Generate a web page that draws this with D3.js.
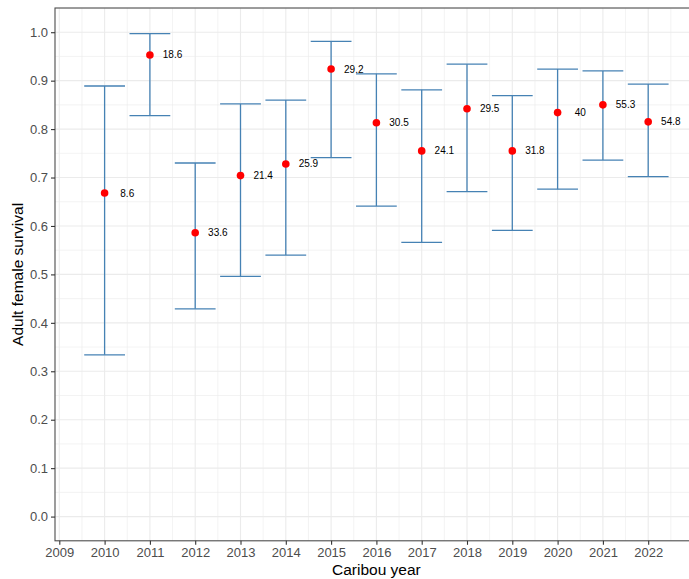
<!DOCTYPE html>
<html>
<head>
<meta charset="utf-8">
<script src="https://cdn.jsdelivr.net/npm/d3@7"></script>
<style>
  html, body { margin: 0; padding: 0; background: #fff; }
  svg { display: block; font-family: "Liberation Sans", Arial, sans-serif; }
</style>
</head>
<body>
<svg id="chart" width="689" height="579"></svg>
<script>
// Caribou adult female survival estimates with confidence intervals
const years    = [2010, 2011, 2012, 2013, 2014, 2015, 2016, 2017, 2018, 2019, 2020, 2021, 2022];
const survival = [0.668, 0.953, 0.586, 0.704, 0.728, 0.924, 0.813, 0.755, 0.842, 0.755, 0.834, 0.850, 0.815];
const lower    = [0.334, 0.828, 0.429, 0.496, 0.540, 0.741, 0.641, 0.566, 0.671, 0.591, 0.676, 0.736, 0.702];
const upper    = [0.889, 0.997, 0.730, 0.852, 0.860, 0.981, 0.914, 0.881, 0.934, 0.869, 0.924, 0.920, 0.893];
const sampleLabels = ["8.6", "18.6", "33.6", "21.4", "25.9", "29.2", "30.5", "24.1", "29.5", "31.8", "40", "55.3", "54.8"];
const xTicks = [2009, 2010, 2011, 2012, 2013, 2014, 2015, 2016, 2017, 2018, 2019, 2020, 2021, 2022];
const yTicks = [0.0, 0.1, 0.2, 0.3, 0.4, 0.5, 0.6, 0.7, 0.8, 0.9, 1.0];

const rows = years.map((y, i) => ({
  year: y, est: survival[i], lo: lower[i], hi: upper[i], label: sampleLabels[i]
}));

const svg = d3.select("#chart");
const panel = { left: 55, top: 8, right: 697.8, bottom: 540.8 };

const capHalf = 0.45;
const xMin = d3.min(years) - capHalf, xMax = d3.max(years) + capHalf;
const xPad = (xMax - xMin) * 0.05;
const x = d3.scaleLinear().domain([xMin - xPad, xMax + xPad]).range([panel.left, panel.right]);
const y = d3.scaleLinear().domain([-0.05, 1.05]).range([panel.bottom, panel.top]);

svg.append("defs").append("clipPath").attr("id", "panel-clip")
  .append("rect")
  .attr("x", panel.left).attr("y", panel.top)
  .attr("width", panel.right - panel.left).attr("height", panel.bottom - panel.top);

const g = svg.append("g").attr("clip-path", "url(#panel-clip)");

// minor grid
const xMinor = d3.range(2009.5, 2023, 1);
const yMinor = d3.range(-0.05, 1.06, 0.1).map(v => +v.toFixed(2));
g.selectAll("line.xminor").data(xMinor).join("line")
  .attr("x1", d => x(d)).attr("x2", d => x(d))
  .attr("y1", panel.top).attr("y2", panel.bottom)
  .attr("stroke", "#ebebeb").attr("stroke-width", 0.6);
g.selectAll("line.yminor").data(yMinor).join("line")
  .attr("x1", panel.left).attr("x2", panel.right)
  .attr("y1", d => y(d)).attr("y2", d => y(d))
  .attr("stroke", "#ebebeb").attr("stroke-width", 0.6);

// major grid
g.selectAll("line.xmajor").data(xTicks).join("line")
  .attr("x1", d => x(d)).attr("x2", d => x(d))
  .attr("y1", panel.top).attr("y2", panel.bottom)
  .attr("stroke", "#ebebeb").attr("stroke-width", 1.1);
g.selectAll("line.ymajor").data(yTicks).join("line")
  .attr("x1", panel.left).attr("x2", panel.right)
  .attr("y1", d => y(d)).attr("y2", d => y(d))
  .attr("stroke", "#ebebeb").attr("stroke-width", 1.1);

// error bars
const bars = g.selectAll("g.bar").data(rows).join("g").attr("class", "bar")
  .attr("stroke", "#4682B4").attr("stroke-width", 1.3).attr("fill", "none");
bars.append("line")
  .attr("x1", d => x(d.year)).attr("x2", d => x(d.year))
  .attr("y1", d => y(d.lo)).attr("y2", d => y(d.hi));
bars.append("line")
  .attr("x1", d => x(d.year - capHalf)).attr("x2", d => x(d.year + capHalf))
  .attr("y1", d => y(d.hi)).attr("y2", d => y(d.hi));
bars.append("line")
  .attr("x1", d => x(d.year - capHalf)).attr("x2", d => x(d.year + capHalf))
  .attr("y1", d => y(d.lo)).attr("y2", d => y(d.lo));

// point estimates
g.selectAll("circle.pt").data(rows).join("circle")
  .attr("cx", d => x(d.year)).attr("cy", d => y(d.est))
  .attr("r", 3.8).attr("fill", "#ff0000");

// value labels
g.selectAll("text.lbl").data(rows).join("text")
  .attr("x", d => x(d.year + 0.5)).attr("y", d => y(d.est))
  .attr("dy", "0.35em").attr("text-anchor", "middle")
  .attr("font-size", 10).attr("fill", "#000")
  .text(d => d.label);

// panel border
svg.append("rect")
  .attr("x", panel.left).attr("y", panel.top)
  .attr("width", panel.right - panel.left).attr("height", panel.bottom - panel.top)
  .attr("fill", "none").attr("stroke", "#4d4d4d").attr("stroke-width", 1.1);

// axes
const xAxis = svg.append("g").attr("transform", `translate(0,${panel.bottom})`)
  .call(d3.axisBottom(x).tickValues(xTicks).tickFormat(d3.format("d")).tickSize(4).tickPadding(3));
const yAxis = svg.append("g").attr("transform", `translate(${panel.left},0)`)
  .call(d3.axisLeft(y).tickValues(yTicks).tickFormat(d3.format(".1f")).tickSize(4).tickPadding(3));
[xAxis, yAxis].forEach(a => {
  a.select(".domain").remove();
  a.selectAll(".tick line").attr("stroke", "#333").attr("stroke-width", 1.1);
  a.selectAll(".tick text").attr("fill", "#4d4d4d").attr("font-size", 13)
    .attr("font-family", "'Liberation Sans', Arial, sans-serif");
});

// axis titles
svg.append("text")
  .attr("x", (panel.left + panel.right) / 2).attr("y", 575)
  .attr("text-anchor", "middle").attr("font-size", 15.5).attr("fill", "#000")
  .text("Caribou year");
svg.append("text")
  .attr("transform", `translate(23,${(panel.top + panel.bottom) / 2}) rotate(-90)`)
  .attr("text-anchor", "middle").attr("font-size", 15.5).attr("fill", "#000")
  .text("Adult female survival");
</script>
</body>
</html>
